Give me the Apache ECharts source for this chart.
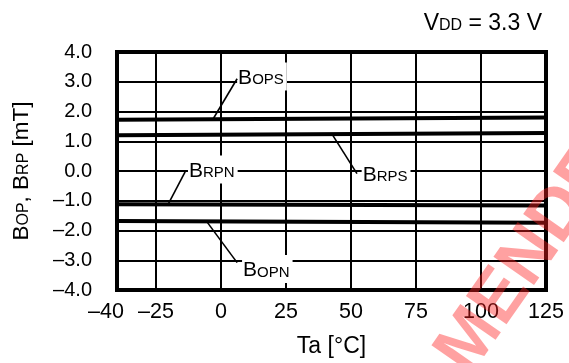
<!DOCTYPE html>
<html>
<head>
<meta charset="utf-8">
<script src="https://cdn.jsdelivr.net/npm/echarts@6/dist/echarts.min.js"></script>
<style>html,body{margin:0;padding:0;background:#fff}#c{width:569px;height:363px}</style>
</head>
<body>
<div id="c"></div>
<script>
// ---- data ----
const xTicks = [-40, -25, 0, 25, 50, 75, 100, 125];
const tempEnds = [-40, 125];
const bOPS = [1.72, 1.80];
const bRPS = [1.20, 1.28];
const bRPN = [-1.12, -1.16];
const bOPN = [-1.68, -1.74];
// annotation labels: text anchor, leader start, leader end (data units)
const labelOPS = {main: 'B', sub: 'OPS', at: [6.2, 3.18], from: [6.2, 3.10], to: [-3.1, 1.74]};
const labelRPN = {main: 'B', sub: 'RPN', at: [-12.7, 0.05], from: [-13.8, -0.03], to: [-20.4, -1.13]};
const labelRPS = {main: 'B', sub: 'RPS', at: [54.1, -0.09], from: [52.3, -0.09], to: [42.7, 1.24]};
const labelOPN = {main: 'B', sub: 'OPN', at: [8.1, -3.29], from: [6.2, -3.08], to: [-5.4, -1.71]};

const FONT = '"Liberation Sans", Arial, sans-serif';
const fmtX = v => (v === -40 ? '{first|\u201340}' : (v < 0 ? '\u2013' + Math.abs(v) : String(v)));
function makeRich(big, small) {
  return {
    b: {fontSize: big, fontFamily: FONT, fontWeight: 'normal', color: '#000', lineHeight: big + 3, verticalAlign: 'bottom'},
    s: {fontSize: small, fontFamily: FONT, fontWeight: 'normal', color: '#000', lineHeight: big + 3, verticalAlign: 'bottom', padding: [0, 0, 1, 0]}
  };
}
const rich = makeRich(21, 15);

function lineSeries(name, vals) {
  return {
    name, type: 'line', silent: true, symbol: 'none', animation: false,
    data: tempEnds.map((t, i) => [t, vals[i]]),
    lineStyle: {color: '#000', width: 4}, z: 3
  };
}

const chart = echarts.init(document.getElementById('c'), null, {renderer: 'canvas'});
chart.setOption({
  animation: false,
  backgroundColor: '#fff',
  title: {
    text: '{b|V}{s|DD}{b| = 3.3 V}',
    right: 22, top: 4,
    textStyle: {fontWeight: 'normal', rich: makeRich(23, 16)}
  },
  grid: {left: 117, right: 23, top: 52, bottom: 72, show: true, borderColor: '#000', borderWidth: 4, backgroundColor: 'transparent'},
  xAxis: {
    type: 'value', min: -40, max: 125,
    name: 'Ta [°C]', nameLocation: 'middle', nameGap: 45,
    nameTextStyle: {fontSize: 23, fontFamily: FONT, color: '#000'},
    axisLine: {show: false},
    axisTick: {show: false, customValues: xTicks},
    axisLabel: {
      customValues: xTicks, formatter: fmtX, fontSize: 21.5, fontFamily: FONT, color: '#000', margin: 11,
      rich: {first: {fontSize: 21.5, fontFamily: FONT, color: '#000', padding: [0, 22, 0, 0]}}
    },
    splitLine: {show: true, lineStyle: {color: '#000', width: 2}}
  },
  yAxis: {
    type: 'value', min: -4, max: 4, interval: 1,
    name: '{b|B}{s|OP}{b|, B}{s|RP}{b| [mT]}', nameLocation: 'middle', nameGap: 84, nameRotate: 90,
    nameTextStyle: {rich: makeRich(22.5, 16)},
    axisLine: {show: false},
    axisTick: {show: false},
    axisLabel: {formatter: v => (v < 0 ? '\u2013' + Math.abs(v).toFixed(1) : v.toFixed(1)), fontSize: 20, fontFamily: FONT, color: '#000', margin: 25},
    splitLine: {show: true, lineStyle: {color: '#000', width: 2}}
  },
  series: [
    lineSeries('BOPS', bOPS),
    lineSeries('BRPS', bRPS),
    lineSeries('BRPN', bRPN),
    lineSeries('BOPN', bOPN)
  ]
});

const px = p => chart.convertToPixel({xAxisIndex: 0, yAxisIndex: 0}, p);
const graphics = [];
[labelOPS, labelRPN, labelRPS, labelOPN].forEach(L => {
  const a = px(L.at), f = px(L.from), t = px(L.to);
  graphics.push({
    type: 'text', x: a[0], y: a[1], z: 50,
    style: {
      text: '{b|' + L.main + '}{s|' + L.sub + '}', rich,
      align: 'left', verticalAlign: 'middle',
      backgroundColor: '#fff', padding: [2, 3, 2, 1]
    }
  });
  graphics.push({
    type: 'line', z: 51,
    shape: {x1: f[0], y1: f[1], x2: t[0], y2: t[1]},
    style: {stroke: '#000', lineWidth: 1.6}
  });
});
// watermark (partly visible)
graphics.push({
  type: 'text', x: 453, y: 366, rotation: 55 * Math.PI / 180, z: 100,
  style: {text: 'MENDED', font: 'bold 72px ' + FONT, fill: 'rgba(255,30,30,0.42)', align: 'left', verticalAlign: 'middle'}
});
chart.setOption({graphic: graphics});
</script>
</body>
</html>
